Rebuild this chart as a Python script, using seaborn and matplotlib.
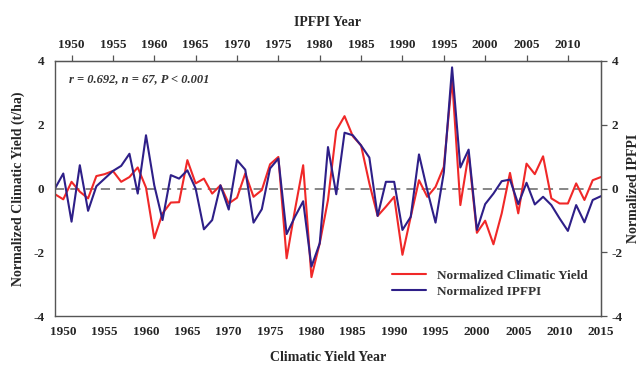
import matplotlib
matplotlib.use("Agg")
import matplotlib.pyplot as plt
import numpy as np
import pandas as pd
import seaborn as sns

# climatic yield years (bottom axis); IPFPI year = climatic year - 1 (top axis)
years = list(range(1949, 2016))

climatic_yield = [
    -0.18, -0.34, 0.21, -0.10, -0.31, 0.39, 0.45, 0.55, 0.21, 0.36,
    0.66, 0.03, -1.56, -0.78, -0.44, -0.43, 0.89, 0.16, 0.31, -0.16,
    0.10, -0.47, -0.29, 0.47, -0.26, -0.05, 0.76, 0.99, -2.19, -0.68,
    0.73, -2.78, -1.72, -0.36, 1.82, 2.27, 1.64, 1.35, 0.16, -0.86,
    -0.57, -0.26, -2.08, -0.89, 0.26, -0.26, 0.05, 0.68, 3.44, -0.52,
    1.09, -1.39, -1.01, -1.75, -0.78, 0.49, -0.78, 0.78, 0.45, 1.01,
    -0.31, -0.47, -0.47, 0.16, -0.36, 0.26, 0.36,
]

ipfpi = [
    0.00, 0.47, -1.04, 0.73, -0.70, 0.07, 0.31, 0.55, 0.71, 1.09,
    -0.16, 1.67, 0.10, -0.99, 0.42, 0.31, 0.57, 0.00, -1.28, -0.99,
    0.10, -0.66, 0.89, 0.59, -1.07, -0.65, 0.63, 0.94, -1.43, -0.89,
    -0.40, -2.45, -1.72, 1.30, -0.18, 1.75, 1.67, 1.35, 0.97, -0.86,
    0.21, 0.21, -1.30, -0.89, 1.07, -0.05, -1.07, 0.50, 3.80, 0.66,
    1.22, -1.30, -0.49, -0.16, 0.23, 0.28, -0.49, 0.18, -0.50, -0.26,
    -0.52, -0.94, -1.33, -0.52, -1.06, -0.36, -0.24,
]

bottom_ticks = list(range(1950, 2016, 5))
top_ticks = list(range(1950, 2011, 5))
y_ticks = [-4, -2, 0, 2, 4]

df = pd.DataFrame({
    "year": years * 2,
    "value": climatic_yield + ipfpi,
    "series": ["Normalized Climatic Yield"] * len(years) + ["Normalized IPFPI"] * len(years),
})

sns.set_style("white")
plt.rcParams["font.family"] = ["Liberation Serif", "DejaVu Serif"]
plt.rcParams["font.weight"] = "bold"
plt.rcParams["axes.unicode_minus"] = False

fig = plt.figure(figsize=(6.44, 3.69), dpi=100)
ax = fig.add_axes([0.0854, 0.1436, 0.8478, 0.6911])

sns.lineplot(data=df, x="year", y="value", hue="series",
             palette=["#F02828", "#2E1F88"], linewidth=1.5, ax=ax)

ax.axhline(0, color="#666666", linestyle=(0, (6, 4)), linewidth=1.1, zorder=0)

ax.set_xlim(1949, 2015)
ax.set_ylim(-4, 4)
ax.set_xticks(bottom_ticks)
ax.set_yticks(y_ticks)

gray = "#555555"
for s in ax.spines.values():
    s.set_color(gray)
    s.set_linewidth(1.0)
ax.tick_params(direction="out", length=4, width=0.9, color=gray, labelsize=9.5)
for lab in ax.get_xticklabels() + ax.get_yticklabels():
    lab.set_fontweight("bold")

ax.set_xlabel("Climatic Yield Year", fontsize=10, fontweight="bold", labelpad=9)
ax.set_ylabel("Normalized Climatic Yield (t/ha)", fontsize=10, fontweight="bold", labelpad=6)

top = ax.secondary_xaxis("top", functions=(lambda x: x - 1, lambda x: x + 1))
top.set_xticks(top_ticks)
top.tick_params(direction="out", length=4, width=0.9, color=gray, labelsize=9.5)
for lab in top.get_xticklabels():
    lab.set_fontweight("bold")
top.set_xlabel("IPFPI Year", fontsize=10, fontweight="bold", labelpad=9)

right = ax.secondary_yaxis("right")
right.set_yticks(y_ticks)
right.tick_params(direction="out", length=4, width=0.9, color=gray, labelsize=9.5)
for lab in right.get_yticklabels():
    lab.set_fontweight("bold")
right.set_ylabel("Normalized IPFPI", fontsize=10, fontweight="bold", labelpad=3)

ax.text(0.025, 0.93, "r = 0.692, n = 67, P < 0.001", transform=ax.transAxes,
        fontsize=9, fontweight="bold", style="italic", color="#333333", va="center")

leg = ax.legend(loc="lower right", bbox_to_anchor=(0.99, 0.04), frameon=False,
                fontsize=9.5, handlelength=2.6, borderaxespad=0.2, labelspacing=0.3)
for t in leg.get_texts():
    t.set_fontweight("bold")
    t.set_color("#333333")

fig.savefig("out.png", dpi=100)
